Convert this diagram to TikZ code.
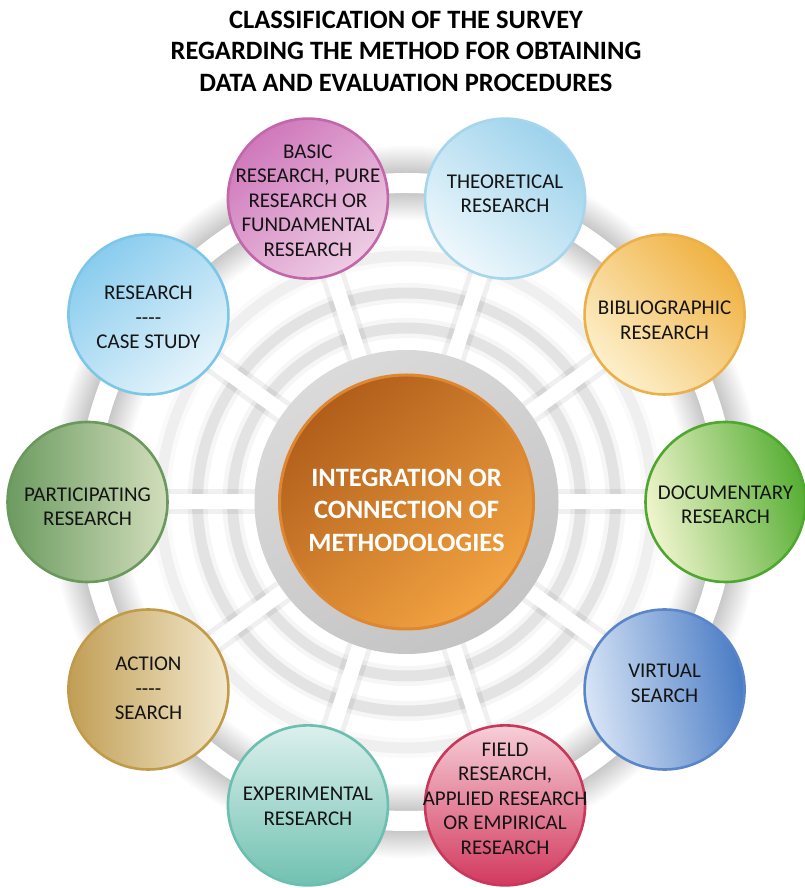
\documentclass[tikz,border=0pt]{standalone}
\usepackage{fontspec}
\setmainfont{Carlito}
\usetikzlibrary{calc}

% fills and rims of the circles
\definecolor{hubdark}{HTML}{B15E1B}
\definecolor{hublight}{HTML}{F2A341}
\definecolor{hubrim}{HTML}{DE8630}
\definecolor{ringlight}{HTML}{DADADA}
\definecolor{ringdark}{HTML}{C4C4C4}

\definecolor{basicA}{HTML}{CF78BB}\definecolor{basicB}{HTML}{EECCE4}\definecolor{basicR}{HTML}{C167AA}
\definecolor{theoA}{HTML}{9DD2EC}\definecolor{theoB}{HTML}{EEF8FC}\definecolor{theoR}{HTML}{A6D5EC}
\definecolor{biblA}{HTML}{F0B243}\definecolor{biblB}{HTML}{FDF0CC}\definecolor{biblR}{HTML}{EBB04A}
\definecolor{docuA}{HTML}{56AE33}\definecolor{docuB}{HTML}{F1F5CE}\definecolor{docuR}{HTML}{4EA82F}
\definecolor{virtA}{HTML}{4A7CC5}\definecolor{virtB}{HTML}{D8E5F6}\definecolor{virtR}{HTML}{5A86C9}
\definecolor{fielA}{HTML}{D2395E}\definecolor{fielB}{HTML}{F6CFD8}\definecolor{fielR}{HTML}{C8385B}
\definecolor{expeA}{HTML}{70C1B1}\definecolor{expeB}{HTML}{DCF0ED}\definecolor{expeR}{HTML}{6CBFB0}
\definecolor{actiA}{HTML}{C19E55}\definecolor{actiB}{HTML}{F3E9CE}\definecolor{actiR}{HTML}{C19B48}
\definecolor{partA}{HTML}{6C9B60}\definecolor{partB}{HTML}{D2DEBC}\definecolor{partR}{HTML}{6A985D}
\definecolor{caseA}{HTML}{89CCEE}\definecolor{caseB}{HTML}{E6F4FB}\definecolor{caseR}{HTML}{7CC6E8}

\begin{document}
\begin{tikzpicture}[x=1pt,y=1pt,
  sat/.style={circle, minimum size=160pt, inner sep=0pt, line width=2.6pt},
  satfill/.style n args={4}{top color=#1, bottom color=#2, shading angle=#3, draw=#4},
  sattext/.style={align=center, text=black!92, font=\fontsize{21}{24.5}\selectfont},
  spokeshade/.style={line width=25pt, draw=black, opacity=0.06},
  spoke/.style={line width=15pt, draw=white},
  band/.style={draw=black, opacity=#1},
]
\useasboundingbox (0,0) rectangle (804,888);
\fill[white] (0,0) rectangle (804,888);

\coordinate (C) at (406.5,386);
\foreach \n/\a in {basic/108, theo/72, bibl/36, docu/0, virt/-36,
                   fiel/-72, expe/-108, acti/-144, part/180, case/144}
  \coordinate (p-\n) at ($(C)+(\a:319)$);

% title
\node[align=center, font=\bfseries\fontsize{26.5}{31.5}\selectfont] (title) at (406,837)
  {CLASSIFICATION OF THE SURVEY\\REGARDING THE METHOD FOR OBTAINING\\DATA AND EVALUATION PROCEDURES};

% soft halo around the outer track
\foreach \w in {74,70,...,22}
  \draw[line width=\w pt, band=0.014] (C) circle (319);
% concentric bands
\foreach \r/\k in {174/1, 209/1, 246/0.55} {
  \draw[line width=20pt, band=0.035*\k] (C) circle (\r);
  \draw[line width=11pt, band=0.075*\k] (C) circle (\r);
}
% outer white track
\draw[white, line width=20pt] (C) circle (319);

% spokes from the hub to every circle
\foreach \n in {basic, theo, bibl, docu, virt, fiel, expe, acti, part, case}
  \draw[spokeshade] (C) -- (p-\n);
\foreach \n in {basic, theo, bibl, docu, virt, fiel, expe, acti, part, case}
  \draw[spoke] (C) -- (p-\n);

% hub
\node[circle, minimum size=304pt, inner sep=0pt, top color=ringlight, bottom color=ringdark, shading angle=30] (ring) at (C) {};
\node[circle, minimum size=254pt, inner sep=0pt, line width=3pt, draw=hubrim,
      top color=hubdark, bottom color=hublight, shading angle=40] (hub) at (C) {};
\node[align=center, text=white, font=\bfseries\fontsize{26.5}{32.5}\selectfont] (hub-t)
  at ([yshift=-8pt]hub.center) {INTEGRATION OR\\CONNECTION OF\\METHODOLOGIES};

% outer circles
\node[sat, satfill={basicA}{basicB}{40}{basicR}] (basic) at (p-basic) {};
\node[sat, satfill={theoA}{theoB}{-40}{theoR}] (theo) at (p-theo) {};
\node[sat, satfill={biblA}{biblB}{-45}{biblR}] (bibl) at (p-bibl) {};
\node[sat, satfill={docuA}{docuB}{-75}{docuR}] (docu) at (p-docu) {};
\node[sat, satfill={virtA}{virtB}{-80}{virtR}] (virt) at (p-virt) {};
\node[sat, satfill={fielB}{fielA}{0}{fielR}] (fiel) at (p-fiel) {};
\node[sat, satfill={expeB}{expeA}{0}{expeR}] (expe) at (p-expe) {};
\node[sat, satfill={actiA}{actiB}{90}{actiR}] (acti) at (p-acti) {};
\node[sat, satfill={partA}{partB}{90}{partR}] (part) at (p-part) {};
\node[sat, satfill={caseA}{caseB}{40}{caseR}] (case) at (p-case) {};

% circle labels
\node[sattext] (basic-t) at ([yshift=-2pt]basic.center) {BASIC\\RESEARCH, PURE\\RESEARCH OR\\FUNDAMENTAL\\RESEARCH};
\node[sattext] (theo-t) at ([yshift=5pt]theo.center) {THEORETICAL\\RESEARCH};
\node[sattext] (bibl-t) at ([yshift=-6pt]bibl.center) {BIBLIOGRAPHIC\\RESEARCH};
\node[sattext] (docu-t) at ([yshift=-3pt]docu.center) {DOCUMENTARY\\RESEARCH};
\node[sattext] (virt-t) at ([yshift=6pt]virt.center) {VIRTUAL\\SEARCH};
\node[sattext] (fiel-t) at ([yshift=7pt]fiel.center) {FIELD\\RESEARCH,\\APPLIED RESEARCH\\OR EMPIRICAL\\RESEARCH};
\node[sattext] (expe-t) at ([yshift=-1pt]expe.center) {EXPERIMENTAL\\RESEARCH};
\node[sattext] (acti-t) at ([yshift=1pt]acti.center) {ACTION\\-{}-{}-{}-\\SEARCH};
\node[sattext] (part-t) at ([yshift=-5pt]part.center) {PARTICIPATING\\RESEARCH};
\node[sattext] (case-t) at ([yshift=-3pt]case.center) {RESEARCH\\-{}-{}-{}-\\CASE STUDY};
\end{tikzpicture}
\end{document}
